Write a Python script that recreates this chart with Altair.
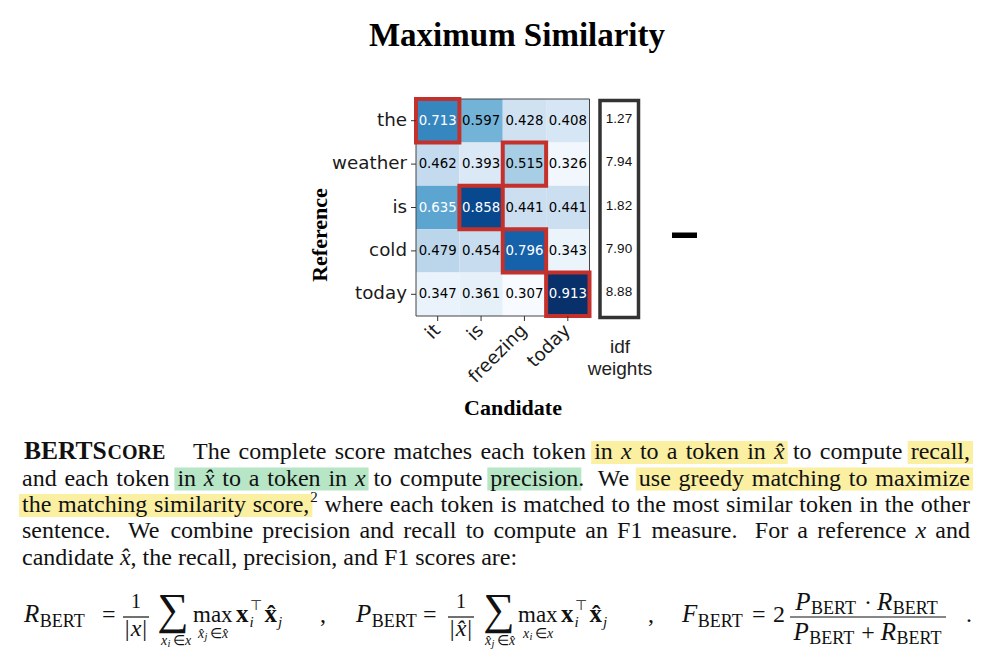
import unicodedata
import altair as alt
import numpy as np
import pandas as pd

# ---------------- data ----------------
title_text = "Maximum Similarity"
candidates = ["it", "is", "freezing", "today"]
references = ["the", "weather", "is", "cold", "today"]
similarity = [
    [0.713, 0.597, 0.428, 0.408],
    [0.462, 0.393, 0.515, 0.326],
    [0.635, 0.858, 0.441, 0.441],
    [0.479, 0.454, 0.796, 0.343],
    [0.347, 0.361, 0.307, 0.913],
]
idf_weights = [1.27, 7.94, 1.82, 7.90, 8.88]
x_title = "Candidate"
y_title = "Reference"
idf_title = ["idf", "weights"]

heading = ["BERTS", "CORE"]
# '*' = italic (math), '+' = glued to previous word, '^' = superscript glued
para_lines = [
    "The complete score matches each token in *x to a token in *x\u0302 to compute recall,",
    "and each token in *x\u0302 to a token in *x to compute precision +. We use greedy matching to maximize",
    "the matching similarity score, ^2 where each token is matched to the most similar token in the other",
    "sentence. We combine precision and recall to compute an F1 measure. For a reference *x and",
    "candidate *x\u0302 +, the recall, precision, and F1 scores are:",
]
# (line, first word, last word, kind)
highlights = [
    (0, 6, 12, "yellow"), (0, 15, 15, "yellow"),
    (1, 3, 9, "green"), (1, 12, 12, "green"), (1, 15, 19, "yellow"),
    (2, 0, 3, "yellow"),
]

# ---------------- layout / style ----------------
OFF = 8
SERIF = "Liberation Serif"
SANS_MPL = "DejaVu Sans"
SANS = "Liberation Sans"
INK = "#111111"
HL = {"yellow": "#fbefa2", "green": "#b6e6c6"}
RED = "#c4302b"
BLUES = ["#f7fbff", "#deebf7", "#c6dbef", "#9ecae1", "#6baed6",
         "#4292c6", "#2171b5", "#08519c", "#08306b"]

HM_X0, HM_X1 = 416, 589.5
HM_Y0, HM_Y1 = 99, 316
PARA_X0, PARA_X1 = 22, 970
PARA_SIZE = 24
PARA_BASE = [459, 485.5, 512, 538.2, 564.5]

W = {' ': 250, ',': 250, '.': 250, ':': 278, '|': 200, '=': 564, '+': 564,
     '\u00b7': 250, '\u2208': 667, '\u22a4': 667, '\u2211': 713, '^': 469}
for ch in "0123456789":
    W[ch] = 500
W.update(dict(a=444, b=500, c=444, d=500, e=444, f=333, g=500, h=500, i=278,
              j=278, k=500, l=278, m=778, n=500, o=500, p=500, q=500, r=333,
              s=389, t=278, u=500, v=500, w=722, x=500, y=500, z=444))
W.update(dict(A=722, B=667, C=667, D=722, E=611, F=556, M=889, O=722, P=556,
              R=667, S=556, T=611, W=944))
W_IT = dict(x=444, P=611, R=611, F=611)
W_BD = dict(B=667, E=667, R=722, T=667, S=556, C=722, O=778, x=500)


def tw(text, size, style="normal", weight="normal"):
    tot = 0
    for ch in text:
        if unicodedata.combining(ch):
            continue
        if style == "italic" and ch in W_IT:
            tot += W_IT[ch]
        elif weight == "bold" and ch in W_BD:
            tot += W_BD[ch]
        else:
            tot += W.get(ch, 500)
    return tot / 1000.0 * size


items = []
filled = []
stroked = []


def put(x, y, text, size, style="normal", weight="normal", font=SERIF,
        align="left", baseline="alphabetic", color=INK, angle=0):
    items.append(dict(x=x - OFF, y=y - OFF, text=text, size=size, style=style,
                      weight=weight, font=font, align=align, baseline=baseline,
                      color=color, angle=float(angle)))


def box(x, x2, y, y2, color):
    filled.append(dict(x=x - OFF, x2=x2 - OFF, y=y - OFF, y2=y2 - OFF, col=color))


def P(text, size, style="normal", weight="normal", dy=0):
    return (text, size, style, weight, dy)


def GAP(px):
    return ("", px, "normal", "normal", 0)


def pw(p):
    text, size, style, weight, dy = p
    return size if text == "" else tw(text, size, style, weight)


def seq(x, y, pieces):
    for p in pieces:
        text, size, style, weight, dy = p
        if text:
            put(x, y + dy, text, size, style, weight)
        x += pw(p)
    return x


def seq_center(cx, y, pieces):
    w = sum(pw(p) for p in pieces)
    return seq(cx - w / 2, y, pieces)


# ---------------- title and heatmap labels ----------------
put(517, 46, title_text, 33, weight="bold", align="center", color="#000000")
put(320, 235, y_title, 22, weight="bold", align="center", baseline="middle",
    color="#000000", angle=270)
put(513, 415, x_title, 22, weight="bold", align="center", color="#000000")
put(620, 353, idf_title[0], 19, font=SANS, align="center", color="#222222")
put(620, 375, idf_title[1], 19, font=SANS, align="center", color="#222222")

# idf box, heatmap frame, minus sign
stroked.append(dict(x=HM_X0 - OFF, x2=HM_X1 - OFF, y=HM_Y0 - OFF, y2=HM_Y1 - OFF,
                    col="#444444", sw=1))
stroked.append(dict(x=600 - OFF, x2=638.5 - OFF, y=100.5 - OFF, y2=317.5 - OFF,
                    col="#333333", sw=3.5))
box(672, 697, 232.5, 238, "#000000")

# ---------------- paragraph ----------------
B1 = PARA_BASE[0]
seq(24, B1, [P(heading[0], 25.5, weight="bold"), P(heading[1], 20, weight="bold")])


def parse(line):
    out = []
    for tok in line.split(" "):
        kind = "word"
        style = "normal"
        if tok.startswith("+"):
            kind, tok = "glue", tok[1:]
        elif tok.startswith("^"):
            kind, tok = "sup", tok[1:]
        if tok.startswith("*"):
            style, tok = "italic", tok[1:]
        out.append((tok, style, kind))
    return out


for li, line in enumerate(para_lines):
    base = PARA_BASE[li]
    words = parse(line)
    sizes = [15 if k == "sup" else PARA_SIZE for _, _, k in words]
    widths = [tw(w, s, st) for (w, st, _), s in zip(words, sizes)]
    gaps = []
    for i in range(1, len(words)):
        kind = words[i][2]
        prev = words[i - 1][0]
        if kind in ("glue", "sup"):
            gaps.append((1.0 if kind == "sup" else 0.0, 0.0))
        elif prev.endswith(".") or prev.endswith(":"):
            gaps.append((PARA_SIZE * 0.33, 3.0))
        elif prev.endswith(","):
            gaps.append((PARA_SIZE * 0.25, 1.25))
        else:
            gaps.append((PARA_SIZE * 0.25, 1.0))
    x0 = 193 if li == 0 else PARA_X0
    justify = li < 4
    natural = sum(widths) + sum(g[0] for g in gaps)
    stretch = sum(g[1] for g in gaps)
    extra = (PARA_X1 - x0 - natural) if justify else 0.0
    xs = [x0]
    for i in range(1, len(words)):
        xs.append(xs[-1] + widths[i - 1] + gaps[i - 1][0]
                  + (extra * gaps[i - 1][1] / stretch if stretch else 0))
    for hl in highlights:
        if hl[0] == li:
            a, b = hl[1], hl[2]
            box(xs[a] - 3, xs[b] + widths[b] + 3, base - 18, base + 5, HL[hl[3]])
    for (w, st, k), x, s in zip(words, xs, sizes):
        put(x, base - 10 if k == "sup" else base, w, s, style=st)

# ---------------- formula ----------------
S = 24          # main math size
SB = 18         # "BERT" subscript size
SUB = 14        # limits size
B = 622         # main baseline
HAT = "x\u0302"


def bert_pieces(letter, dy=5):
    return [P(letter, 25, "italic"), GAP(0.5), P("BERT", SB, dy=dy)]


def vec_prod(x):
    x = seq(x, B, [P("x", S + 1, weight="bold")])
    put(x + 1, B + 5, "i", 15, "italic")
    put(x + 1, B - 12, "\u22a4", 14)
    x += 16
    x = seq(x, B, [P(HAT, S + 1, weight="bold")])
    put(x + 1, B + 5, "j", 15, "italic")


def frac_one(cx, den_hat):
    put(cx, B - 14, "1", 20, align="center")
    box(cx - 13, cx + 13, B - 5.6, B - 4.4, INK)
    seq_center(cx, B + 14, [P("|", S), GAP(1), P(HAT if den_hat else "x", S, "italic"),
                            GAP(1), P("|", S)])


def sub_set(cx, y, elem_hat, idx):
    v = HAT if elem_hat else "x"
    seq_center(cx, y, [P(v, SUB, "italic"), GAP(0.5), P(idx, 10.5, "italic", dy=2),
                       GAP(2.5), P("\u2208", SUB), GAP(2.5), P(v, SUB, "italic")])


# R_BERT
seq(24, B, bert_pieces("R"))
put(102, B, "=", S)
frac_one(136, False)
put(173, B + 2, "\u2211", 44, align="center")
sub_set(176, B + 23, False, "i")
put(193, B, "max", 23)
sub_set(213, B + 16, True, "j")
vec_prod(236)
put(320, B, ",", S)

# P_BERT
seq(356, B, bert_pieces("P"))
put(423, B, "=", S)
frac_one(461, True)
put(499, B + 2, "\u2211", 44, align="center")
sub_set(500, B + 23, True, "j")
put(518, B, "max", 23)
sub_set(538, B + 16, False, "i")
vec_prod(561)
put(648, B, ",", S)

# F_BERT
seq(682, B, bert_pieces("F"))
put(752, B, "=", S)
put(773, B, "2", S)
box(790, 946, B - 5.6, B - 4.4, INK)
num = bert_pieces("P", 4) + [GAP(7), P("\u00b7", S), GAP(7)] + bert_pieces("R", 4)
seq_center(867, B - 12, num)
den = bert_pieces("P", 4) + [GAP(6), P("+", S), GAP(6)] + bert_pieces("R", 4)
seq_center(868, B + 18, den)
put(966, B, ".", S)

# ---------------- chart ----------------
cells = pd.DataFrame([{"ref": r, "cand": c, "val": similarity[i][j]}
                      for i, r in enumerate(references)
                      for j, c in enumerate(candidates)])
best = cells.loc[cells.groupby("ref", sort=False)["val"].idxmax()]
refs_df = pd.DataFrame({"ref": references, "idf": idf_weights})
cands_df = pd.DataFrame({"cand": candidates})

vmin, vmax = cells["val"].min(), cells["val"].max()
xs_band = alt.Scale(domain=candidates, range=[HM_X0 - OFF, HM_X1 - OFF],
                    paddingInner=0, paddingOuter=0)
ys_band = alt.Scale(domain=references, range=[HM_Y0 - OFF, HM_Y1 - OFF],
                    paddingInner=0, paddingOuter=0)
cscale = alt.Scale(domain=list(np.linspace(vmin, vmax, len(BLUES))), range=BLUES,
                   interpolate="rgb")
XB = alt.X("cand:N", scale=xs_band, axis=None)
YB = alt.Y("ref:N", scale=ys_band, axis=None)

layers = []
layers.append(alt.Chart(pd.DataFrame(filled)).mark_rect().encode(
    x=alt.X("x:Q", scale=None, axis=None), x2="x2:Q",
    y=alt.Y("y:Q", scale=None, axis=None), y2="y2:Q",
    color=alt.Color("col:N", scale=None, legend=None)))
layers.append(alt.Chart(cells).mark_rect().encode(
    x=XB, y=YB, color=alt.Color("val:Q", scale=cscale, legend=None)))
layers.append(alt.Chart(cells).mark_text(font=SANS_MPL, fontSize=13.3, baseline="middle").encode(
    x=XB, y=YB, text=alt.Text("val:Q", format=".3f"),
    color=alt.when(alt.datum.val > 0.6).then(alt.value("white")).otherwise(alt.value("black"))))
layers.append(alt.Chart(pd.DataFrame(stroked)).mark_rect(fillOpacity=0).encode(
    x=alt.X("x:Q", scale=None, axis=None), x2="x2:Q",
    y=alt.Y("y:Q", scale=None, axis=None), y2="y2:Q",
    stroke=alt.Stroke("col:N", scale=None, legend=None),
    strokeWidth=alt.StrokeWidth("sw:Q", scale=None, legend=None)))
layers.append(alt.Chart(best).mark_rect(fillOpacity=0, stroke=RED, strokeWidth=4).encode(
    x=XB, y=YB))
# ticks and tick labels
layers.append(alt.Chart(refs_df).mark_rule(color="#333333").encode(
    y=YB, x=alt.value(411 - OFF), x2=alt.value(HM_X0 - OFF)))
layers.append(alt.Chart(cands_df).mark_rule(color="#333333").encode(
    x=XB, y=alt.value(HM_Y1 - OFF), y2=alt.value(321 - OFF)))
layers.append(alt.Chart(refs_df).mark_text(font=SANS_MPL, fontSize=18.3, align="right",
                                           baseline="middle", color="#1a1a1a").encode(
    y=YB, x=alt.value(407 - OFF), text="ref:N"))
layers.append(alt.Chart(cands_df).mark_text(font=SANS_MPL, fontSize=18.3, align="right",
                                            baseline="middle", angle=315, color="#1a1a1a").encode(
    x=XB, y=alt.value(328 - OFF), text="cand:N"))
layers.append(alt.Chart(refs_df).mark_text(font=SANS, fontSize=13.5, baseline="middle",
                                           dy=-2, color="#111111").encode(
    y=YB, x=alt.value(619 - OFF), text=alt.Text("idf:Q", format=".2f")))

tdf = pd.DataFrame(items)
for key, g in tdf.groupby(["font", "style", "weight", "align", "baseline", "angle"], sort=False):
    font, style, weight, align, baseline, angle = key
    mk = dict(font=font, fontStyle=style, fontWeight=weight, align=align, baseline=baseline)
    if angle:
        mk["angle"] = float(angle)
    layers.append(alt.Chart(g.reset_index(drop=True)).mark_text(**mk).encode(
        x=alt.X("x:Q", scale=None, axis=None),
        y=alt.Y("y:Q", scale=None, axis=None),
        text="text:N",
        size=alt.Size("size:Q", scale=None, legend=None),
        color=alt.Color("color:N", scale=None, legend=None)))

chart = alt.layer(*layers).resolve_scale(
    x="independent", y="independent", color="independent"
).properties(
    width=970, height=642, padding=0,
    autosize=alt.AutoSizeParams(type="none"), background="white"
).configure_view(stroke=None)

chart.save("out.html", embed_options={"renderer": "svg", "actions": False})
